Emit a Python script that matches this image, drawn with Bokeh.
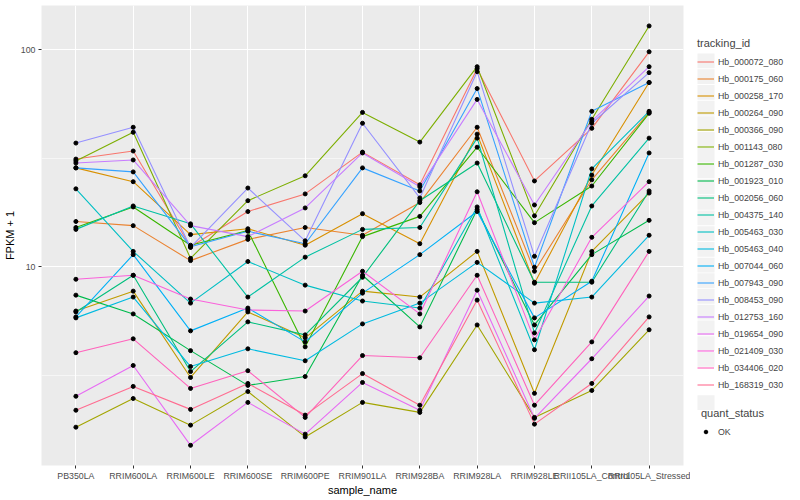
from bokeh.plotting import figure
from bokeh.layouts import row
from bokeh.models import (Range1d, FactorRange, FixedTicker, Legend, LegendItem,
                          BasicTickFormatter)
from bokeh.embed import file_html
from bokeh.resources import INLINE

samples = ["PB350LA", "RRIM600LA", "RRIM600LE", "RRIM600SE", "RRIM600PE",
           "RRIM901LA", "RRIM928BA", "RRIM928LA", "RRIM928LE",
           "RRII105LA_Control", "RRII105LA_Stressed"]

tracking_ids = ["Hb_000072_080", "Hb_000175_060", "Hb_000258_170", "Hb_000264_090",
                "Hb_000366_090", "Hb_001143_080", "Hb_001287_030", "Hb_001923_010",
                "Hb_002056_060", "Hb_004375_140", "Hb_005463_030", "Hb_005463_040",
                "Hb_007044_060", "Hb_007943_090", "Hb_008453_090", "Hb_012753_160",
                "Hb_019654_090", "Hb_021409_030", "Hb_034406_020", "Hb_168319_030"]

hb_000072_080 = [31.4, 34.2, 12.4, 18.0, 21.7, 33.8, 23.9, 81.9, 24.9, 43.5, 97.9]
hb_000175_060 = [16.2, 15.5, 10.7, 13.4, 15.2, 14.0, 19.8, 44.0, 9.56, 25.2, 51.5]
hb_000258_170 = [28.6, 24.7, 14.1, 15.0, 12.6, 17.6, 12.8, 40.9, 8.42, 26.5, 70.7]
hb_000264_090 = [6.27, 7.74, 3.10, 6.21, 4.72, 7.74, 7.27, 11.8, 2.62, 11.8, 21.9]
hb_000366_090 = [1.83, 2.48, 1.87, 2.67, 1.65, 2.38, 2.14, 5.41, 2.03, 2.70, 5.14]
hb_001143_080 = [30.8, 41.7, 10.96, 20.2, 26.3, 51.5, 37.6, 83.6, 17.2, 47.9, 128.8]
hb_001287_030 = [15.2, 18.9, 12.6, 14.7, 4.29, 13.8, 17.1, 35.6, 16.0, 23.6, 51.0]
hb_001923_010 = [7.42, 6.08, 4.12, 2.85, 3.13, 9.16, 5.30, 18.4, 5.41, 11.4, 16.4]
hb_002056_060 = [6.21, 9.16, 3.30, 5.59, 4.87, 8.97, 20.2, 30.1, 8.51, 8.51, 22.4]
hb_004375_140 = [14.9, 19.1, 15.8, 7.27, 11.1, 14.9, 15.2, 39.2, 4.97, 19.1, 39.2]
hb_005463_030 = [22.9, 11.8, 6.82, 10.6, 8.25, 6.97, 6.47, 18.9, 4.16, 28.3, 52.1]
hb_005463_040 = [5.83, 7.27, 3.48, 4.20, 3.70, 5.47, 6.82, 10.5, 6.82, 7.27, 14.0]
hb_007044_060 = [5.89, 11.4, 5.08, 6.47, 4.52, 7.58, 11.4, 18.0, 5.83, 8.60, 33.5]
hb_007943_090 = [28.6, 27.4, 12.4, 14.6, 12.8, 28.6, 22.4, 66.3, 9.97, 52.1, 70.7]
hb_008453_090 = [37.2, 44.0, 12.3, 23.1, 13.2, 45.9, 20.8, 79.3, 11.2, 45.9, 78.5]
hb_012753_160 = [30.1, 31.1, 15.5, 13.8, 18.7, 33.5, 23.4, 59.1, 19.3, 46.9, 83.6]
hb_019654_090 = [2.54, 3.52, 1.51, 2.38, 1.70, 2.94, 2.19, 7.82, 2.01, 3.78, 7.35]
hb_021409_030 = [8.78, 9.16, 7.12, 6.34, 6.27, 9.56, 6.08, 22.2, 4.62, 13.7, 24.7]
hb_034406_020 = [4.03, 4.67, 2.76, 3.33, 2.03, 3.91, 3.82, 9.16, 2.31, 4.52, 11.8]
hb_168319_030 = [2.19, 2.82, 2.21, 2.91, 2.08, 3.23, 2.31, 7.04, 1.89, 2.91, 5.89]

palette = ["#F8766D", "#EA8331", "#D89000", "#C09B00", "#A3A500", "#7CAE00", "#39B600",
           "#00BB4E", "#00BF7D", "#00C1A3", "#00BFC4", "#00BAE0", "#00B0F6", "#35A2FF",
           "#9590FF", "#C77CFF", "#E76BF3", "#FA62DB", "#FF62BC", "#FF6C91"]

quant_status = ["OK"]

series_values = [hb_000072_080, hb_000175_060, hb_000258_170, hb_000264_090,
                 hb_000366_090, hb_001143_080, hb_001287_030, hb_001923_010,
                 hb_002056_060, hb_004375_140, hb_005463_030, hb_005463_040,
                 hb_007044_060, hb_007943_090, hb_008453_090, hb_012753_160,
                 hb_019654_090, hb_021409_030, hb_034406_020, hb_168319_030]

FONT = "Liberation Sans"
H = 498
NAN = float("nan")

p = figure(width=690, height=H, output_backend="svg", toolbar_location=None,
           x_range=FactorRange(factors=samples, range_padding=0.2 / 11,
                               range_padding_units="percent"),
           y_range=Range1d(10 ** 0.086, 10 ** 2.204), y_axis_type="log",
           min_border_left=40, min_border_right=7, min_border_top=5,
           min_border_bottom=24)
p.background_fill_color = "#EBEBEB"
p.border_fill_color = "white"
p.outline_line_color = None

for vals, col in zip(series_values, palette):
    p.line(x=samples, y=vals, line_color=col, line_width=1.1)

all_x, all_y = [], []
for vals in series_values:
    all_x.extend(samples)
    all_y.extend(vals)
p.scatter(x=all_x, y=all_y, size=4, color="black", marker="circle")

# axes
p.yaxis.ticker = FixedTicker(ticks=[10, 100], minor_ticks=[10 ** 0.5, 10 ** 1.5])
p.yaxis.formatter = BasicTickFormatter()
p.axis.axis_line_color = None
p.axis.major_tick_line_color = "#333333"
p.axis.major_tick_out = 3
p.axis.major_tick_in = 0
p.axis.minor_tick_line_color = None
p.axis.major_label_text_font = FONT
p.axis.major_label_text_font_size = "8.8px"
p.axis.major_label_text_color = "#4D4D4D"
p.axis.major_label_standoff = 2
p.axis.axis_label_text_font = FONT
p.axis.axis_label_text_font_size = "11px"
p.axis.axis_label_text_font_style = "normal"
p.axis.axis_label_text_color = "black"
p.axis.axis_label_standoff = 0
p.yaxis.axis_label_standoff = 2
p.xaxis.axis_label = "sample_name"
p.yaxis.axis_label = "FPKM + 1"

p.xgrid.grid_line_color = "white"
p.xgrid.grid_line_width = 1.1
p.ygrid.grid_line_color = "white"
p.ygrid.grid_line_width = 1.1
p.ygrid.minor_grid_line_color = "white"
p.ygrid.minor_grid_line_width = 0.55

# legend panel (keys only; the key renderers hold no visible data)
lf = figure(width=100, height=H, output_backend="svg", toolbar_location=None,
            x_range=Range1d(0, 100), y_range=Range1d(H, 0),
            x_axis_location=None, y_axis_location=None,
            min_border_left=0, min_border_right=0, min_border_top=0, min_border_bottom=0)
lf.grid.visible = False
lf.outline_line_color = None
lf.background_fill_color = "white"

# grey key backgrounds, laid out on the legend's row grid
ROW = 17
first_key_center = 60
key_tops, key_bottoms = [], []
for i in range(len(tracking_ids)):
    c = first_key_center + ROW * i
    key_tops.append(c - 8)
    key_bottoms.append(c + 8)
ok_center = 430
key_tops.append(ok_center - 8)
key_bottoms.append(ok_center + 8)
lf.quad(left=7, right=24, top=key_tops, bottom=key_bottoms,
        fill_color="#F2F2F2", line_color=None)

key_items = []
for tid, col in zip(tracking_ids, palette):
    kr = lf.line(x=[NAN, NAN], y=[NAN, NAN], line_color=col, line_width=1.1)
    key_items.append(LegendItem(label=tid, renderers=[kr]))
ok_r = lf.scatter(x=[NAN], y=[NAN], size=4, color="black", marker="circle")


def style_legend(lg):
    lg.label_text_font = FONT
    lg.label_text_font_size = "8.8px"
    lg.title_text_font = FONT
    lg.title_text_font_size = "11px"
    lg.title_text_font_style = "normal"
    lg.glyph_width = 17
    lg.glyph_height = 17
    lg.label_height = 17
    lg.label_standoff = 4
    lg.spacing = 0
    lg.padding = 0
    lg.margin = 0
    lg.title_standoff = 4
    lg.border_line_color = None
    lg.background_fill_alpha = 0


leg1 = Legend(items=key_items, title="tracking_id", location=(7, H - 494 + 68))
style_legend(leg1)
leg2 = Legend(items=[LegendItem(label=quant_status[0], renderers=[ok_r])],
              title="quant_status", location=(11, H - 494 + 21))
style_legend(leg2)
leg2.glyph_width = 9
leg2.glyph_height = 9
leg2.label_standoff = 8
lf.add_layout(leg1, "center")
lf.add_layout(leg2, "center")

open("out.html", "w").write(file_html(row(p, lf), INLINE))
